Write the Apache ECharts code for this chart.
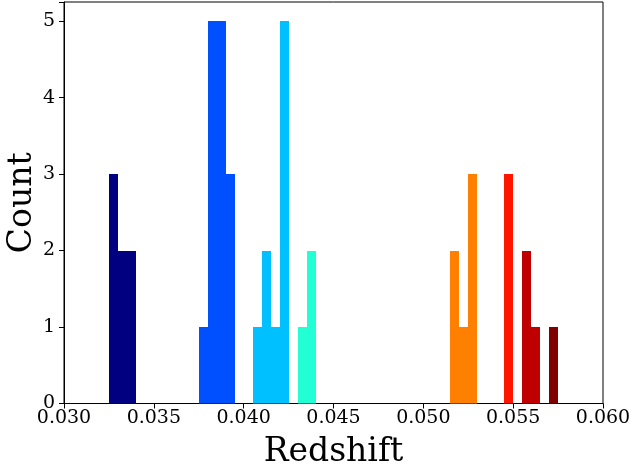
<!DOCTYPE html>
<html>
<head>
<meta charset="utf-8">
<script src="https://cdn.jsdelivr.net/npm/echarts@6/dist/echarts.min.js"></script>
<style>
  html, body { margin: 0; padding: 0; background: #fff; }
  #chart { width: 633px; height: 470px; }
</style>
</head>
<body>
<div id="chart"></div>
<script>
// Histogram of galaxy redshifts, bins 0.0005 wide, coloured by group.
const binWidth = 0.0005;
const binLeft = [
  0.0325, 0.0330, 0.0335,
  0.0375, 0.0380, 0.0385, 0.0390,
  0.0405, 0.0410, 0.0415, 0.0420,
  0.0430, 0.0435,
  0.0515, 0.0520, 0.0525,
  0.0545,
  0.0555, 0.0560,
  0.0570
];
const binCount = [
  3, 2, 2,
  1, 5, 5, 3,
  1, 2, 1, 5,
  1, 2,
  2, 1, 3,
  3,
  2, 1,
  1
];
const binGroup = [
  0, 0, 0,
  1, 1, 1, 1,
  2, 2, 2, 2,
  3, 3,
  4, 4, 4,
  5,
  6, 6,
  7
];
const xTicks = [0.030, 0.035, 0.040, 0.045, 0.050, 0.055, 0.060];
const yTicks = [0, 1, 2, 3, 4, 5];

// jet-style colours, one per group
const groupColors = ['#000080', '#0050ff', '#00c0ff', '#23ffd4', '#ff8000', '#ff1500', '#c00000', '#800000'];

const FONT = 'DejaVu Serif';

const chart = echarts.init(document.getElementById('chart'), null, { renderer: 'canvas' });

const data = binLeft.map((x, i) => [x, x + binWidth, binCount[i], binGroup[i]]);

chart.setOption({
  animation: false,
  backgroundColor: '#fff',
  grid: {
    left: 64, right: 30, top: 2, bottom: 66.5,
    outerBoundsMode: 'none',
    containLabel: false,
    show: true, borderColor: '#000', borderWidth: 1, backgroundColor: 'transparent'
  },
  xAxis: {
    type: 'value',
    min: xTicks[0],
    max: xTicks[xTicks.length - 1],
    interval: 0.005,
    name: 'Redshift',
    nameLocation: 'middle',
    nameGap: 32,
    nameMoveOverlap: false,
    nameTextStyle: { fontFamily: FONT, fontSize: 33, color: '#000' },
    axisLine: { show: true, onZero: false, lineStyle: { color: '#000', width: 1 } },
    axisTick: { show: true, inside: false, length: 5, lineStyle: { color: '#000', width: 1 } },
    axisLabel: {
      fontFamily: FONT, fontSize: 19, color: '#000', margin: 5,
      formatter: v => v.toFixed(3)
    },
    splitLine: { show: false }
  },
  yAxis: {
    type: 'value',
    min: 0,
    max: 5.25,
    interval: 1,
    name: 'Count',
    nameLocation: 'middle',
    nameGap: 25,
    nameMoveOverlap: false,
    nameRotate: 90,
    nameTextStyle: { fontFamily: FONT, fontSize: 33, color: '#000' },
    axisLine: { show: true, lineStyle: { color: '#000', width: 1 } },
    axisTick: { show: true, inside: false, length: 5, lineStyle: { color: '#000', width: 1 } },
    axisLabel: {
      fontFamily: FONT, fontSize: 19, color: '#000', margin: 9,
      formatter: v => (yTicks.indexOf(v) >= 0 ? String(v) : '')
    },
    splitLine: { show: false }
  },
  series: [{
    type: 'custom',
    data: data,
    encode: { x: [0, 1], y: 2 },
    renderItem: function (params, api) {
      const p0 = api.coord([api.value(0), 0]);
      const p1 = api.coord([api.value(1), api.value(2)]);
      // snap to whole pixels so neighbouring bins meet without seams
      const x0 = Math.round(p0[0]);
      const x1 = Math.round(p1[0]);
      const yTop = Math.round(p1[1]);
      return {
        type: 'rect',
        shape: { x: x0, y: yTop, width: x1 - x0, height: p0[1] - yTop },
        style: { fill: groupColors[api.value(3)] }
      };
    }
  }]
});
</script>
</body>
</html>
